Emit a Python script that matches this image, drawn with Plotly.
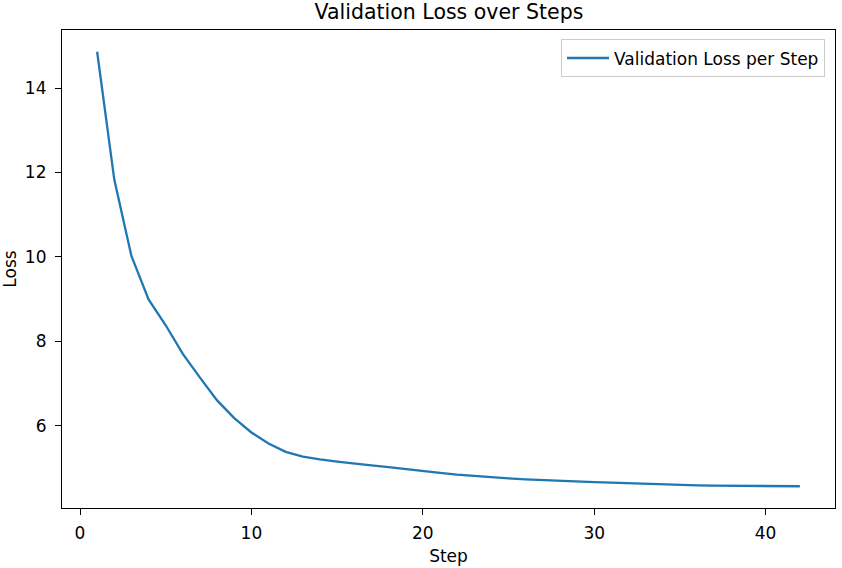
import plotly.graph_objects as go

steps = list(range(1, 43))
val_loss = [14.86, 11.83, 10.02, 8.99, 8.38, 7.70, 7.14, 6.60, 6.18, 5.84,
            5.58, 5.38, 5.27, 5.20, 5.15, 5.10, 5.06, 5.02, 4.97, 4.93,
            4.88, 4.84, 4.805, 4.777, 4.752, 4.73, 4.71, 4.695, 4.68, 4.665,
            4.65, 4.635, 4.618, 4.603, 4.592, 4.585, 4.58, 4.575, 4.572, 4.57,
            4.567, 4.565]

title_text = "Validation Loss over Steps"
x_label = "Step"
y_label = "Loss"
series_name = "Validation Loss per Step"
x_ticks = [0, 10, 20, 30, 40]
y_ticks = [6, 8, 10, 12, 14]

font = "DejaVu Sans"
W, H = 842, 568
L, R, T, B = 62, 6, 30, 57

fig = go.Figure()
fig.add_trace(go.Scatter(x=steps, y=val_loss, mode="lines", name=series_name,
                         line=dict(color="#1f77b4", width=2.3)))

ymin, ymax = min(val_loss), max(val_loss)
pad_y = (ymax - ymin) * 0.05
pad_x = (max(steps) - min(steps)) * 0.05

axis_common = dict(showline=True, linecolor="black", linewidth=1.2, mirror=True,
                   ticks="outside", ticklen=6, tickwidth=1.2, tickcolor="black",
                   showgrid=False, zeroline=False,
                   tickfont=dict(family=font, size=17, color="black"))

pw = W - L - R
ph = H - T - B

fig.update_layout(
    width=W, height=H,
    margin=dict(l=L, r=R, t=T, b=B),
    paper_bgcolor="white", plot_bgcolor="white",
    font=dict(family=font, color="black"),
    title=dict(text=title_text, x=(L + (W - R)) / 2 / W, xanchor="center",
               y=1 - 12 / H, yanchor="middle",
               font=dict(family=font, size=20.5, color="black")),
    xaxis=dict(range=[min(steps) - pad_x, max(steps) + pad_x], tickvals=x_ticks,
               ticklabelstandoff=3,
               title=dict(text=x_label, font=dict(family=font, size=17), standoff=8),
               **axis_common),
    yaxis=dict(range=[ymin - pad_y, ymax + pad_y], tickvals=y_ticks,
               ticklabelstandoff=5,
               title=dict(text=y_label, font=dict(family=font, size=17), standoff=6),
               **axis_common),
    showlegend=True,
    legend=dict(x=(826 - L) / pw, y=(H - B - 39.5) / ph,
                xanchor="right", yanchor="top", itemwidth=42,
                bgcolor="white", bordercolor="#cccccc", borderwidth=1,
                font=dict(family=font, size=17, color="black")),
)

fig.write_html("out.html", config={"displayModeBar": False},
               post_script="document.body.style.margin='0';")
